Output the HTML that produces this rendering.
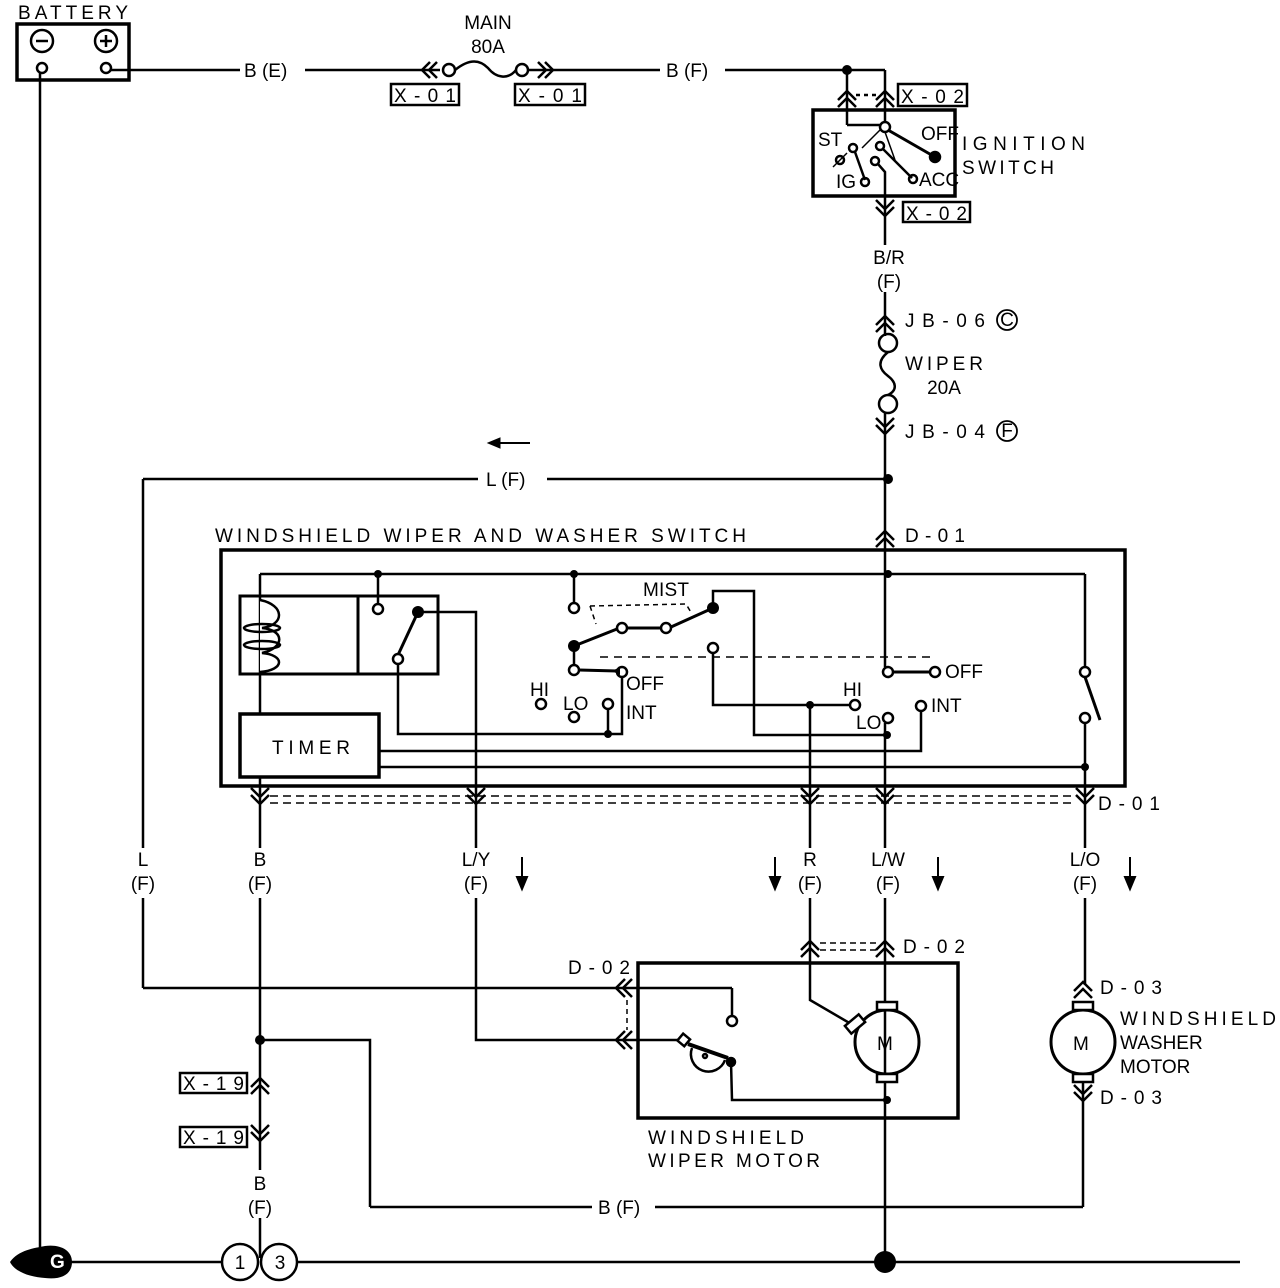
<!DOCTYPE html>
<html><head><meta charset="utf-8"><style>
html,body{margin:0;padding:0;background:#fff}
svg{display:block}
text{font-family:"Liberation Sans",sans-serif;font-size:19px;fill:#000}
</style></head><body>
<svg width="1280" height="1288" viewBox="0 0 1280 1288" xmlns="http://www.w3.org/2000/svg">
<defs>
<path id="up" d="M-9,5 L0,-4 L9,5 M-9,12 L0,3 L9,12" fill="none" stroke="#000" stroke-width="2.5"/>
<path id="dn" d="M-9,-5 L0,4 L9,-5 M-9,-12 L0,-3 L9,-12" fill="none" stroke="#000" stroke-width="2.5"/>
<path id="lf" d="M5,-9 L-4,0 L5,9 M12,-9 L3,0 L12,9" fill="none" stroke="#000" stroke-width="2.5"/>
<path id="da" d="M0,0 L0,28 M-5,20 L0,32 L5,20 Z" fill="#000" stroke="#000" stroke-width="2"/>
</defs>
<g fill="none" stroke="#000" stroke-width="2.5">
<rect x="17" y="24" width="112" height="56" stroke-width="3.5"/>
<circle cx="42" cy="41" r="11"/><circle cx="106" cy="41" r="11"/>
<line x1="36" y1="41" x2="48" y2="41"/><line x1="100" y1="41" x2="112" y2="41"/><line x1="106" y1="35" x2="106" y2="47"/>
<circle cx="42" cy="68" r="5"/><circle cx="106" cy="68" r="5"/>
<line x1="40" y1="73" x2="40" y2="1258"/>
<line x1="111" y1="70" x2="240" y2="70"/><line x1="305" y1="70" x2="440" y2="70"/>
<path d="M430,62 L422,70 L430,78 M437,62 L429,70 L437,78"/>
<circle cx="449" cy="70" r="6"/>
<path d="M455,70 C470,58 480,60 488,68 C496,78 508,80 516,70"/>
<circle cx="522" cy="70" r="6"/>
<path d="M538,62 L546,70 L538,78 M545,62 L553,70 L545,78"/>
<line x1="528" y1="70" x2="660" y2="70"/><line x1="725" y1="70" x2="885" y2="70"/>
<rect x="391" y="84" width="68" height="21"/><rect x="515" y="84" width="70" height="21"/>
<line x1="847" y1="70" x2="847" y2="125"/><line x1="847" y1="125" x2="885" y2="125"/>
<line x1="885" y1="70" x2="885" y2="125"/>
<use href="#up" x="847" y="95"/><use href="#up" x="885" y="95"/>
<line x1="856" y1="95" x2="876" y2="95" stroke-dasharray="4,4"/>
<rect x="898" y="84" width="69" height="22"/>
<rect x="813" y="110" width="142" height="86" stroke-width="3.5"/>
<circle cx="885" cy="127" r="5" fill="#fff"/>
<line x1="888" y1="130" x2="935" y2="157" stroke-width="3"/>
<circle cx="935" cy="157" r="5" fill="#000"/>
<line x1="880" y1="130" x2="862" y2="148" stroke-width="1.5"/>
<line x1="885" y1="132" x2="895" y2="160" stroke-width="1.5"/>
<circle cx="880" cy="146" r="4"/><line x1="883" y1="149" x2="912" y2="178"/><circle cx="913" cy="179" r="4"/>
<circle cx="853" cy="148" r="4"/><line x1="855" y1="152" x2="865" y2="180"/><circle cx="865" cy="182" r="4"/>
<circle cx="840" cy="160" r="4"/><line x1="833" y1="167" x2="847" y2="153" stroke-width="1.5"/>
<circle cx="875" cy="161" r="4"/><path d="M878,164 L885,172 L885,245"/>
<use href="#dn" x="885" y="212"/>
<rect x="903" y="202" width="67" height="20"/>
<line x1="885" y1="292" x2="885" y2="336"/>
<use href="#up" x="885" y="320"/>
<circle cx="888" cy="343" r="9"/>
<path d="M888,352 C876,362 880,370 888,376 C896,382 898,390 888,395"/>
<circle cx="888" cy="404" r="9"/>
<line x1="885" y1="413" x2="885" y2="667"/><line x1="885" y1="723" x2="885" y2="848"/><line x1="885" y1="898" x2="885" y2="1258"/>
<use href="#dn" x="885" y="430"/>
<circle cx="1007" cy="320" r="10" stroke-width="1.8"/><circle cx="1007" cy="431" r="10" stroke-width="1.8"/>
<line x1="495" y1="443" x2="530" y2="443" stroke-width="2"/>
<path d="M488,443 L500,438 L500,448 Z" fill="#000" stroke-width="1"/>
<line x1="143" y1="479" x2="478" y2="479"/><line x1="547" y1="479" x2="888" y2="479"/>
<line x1="143" y1="479" x2="143" y2="848"/><line x1="143" y1="898" x2="143" y2="988"/>
<line x1="143" y1="988" x2="732" y2="988"/><line x1="732" y1="988" x2="732" y2="1016"/>
<circle cx="732" cy="1021" r="5"/>
<use href="#up" x="885" y="535"/>
<rect x="221" y="550" width="904" height="236" stroke-width="3.5"/>
<line x1="260" y1="574" x2="1085" y2="574"/><line x1="1085" y1="574" x2="1085" y2="667"/>
<line x1="260" y1="574" x2="260" y2="714"/>
<rect x="240" y="596" width="198" height="78" stroke-width="3"/><line x1="358" y1="596" x2="358" y2="674" stroke-width="3"/>
<path d="M260,600 C285,605 285,625 262,628 C285,630 285,648 262,653 C285,655 285,670 260,672" fill="#fff"/>
<ellipse cx="262" cy="628" rx="18" ry="4"/><ellipse cx="262" cy="645" rx="18" ry="4"/>
<line x1="378" y1="574" x2="378" y2="604"/><circle cx="378" cy="609" r="5" fill="#fff"/>
<line x1="418" y1="612" x2="398" y2="655" stroke-width="3"/><circle cx="398" cy="659" r="5" fill="#fff"/>
<path d="M418,612 L476,612 L476,848"/><path d="M476,898 L476,1040 L615,1040"/>
<path d="M398,664 L398,734 L608,734"/>
<rect x="240" y="714" width="139" height="63" stroke-width="3.5"/>
<line x1="260" y1="777" x2="260" y2="848"/><line x1="260" y1="898" x2="260" y2="1170"/><line x1="260" y1="1218" x2="260" y2="1258"/>
<line x1="574" y1="574" x2="574" y2="603"/><circle cx="574" cy="608" r="5"/>
<path d="M574,646 L617,629 M627,628 L661,628 M671,627 L713,608" stroke-width="3"/>
<circle cx="622" cy="628" r="5"/><circle cx="666" cy="628" r="5"/>
<path d="M590,606 L596,624 M590,606 L686,604 L692,614" stroke-width="1.5" stroke-dasharray="5,4"/>
<path d="M713,608 L713,591 L754,591 L754,735 L887,735"/>
<line x1="574" y1="646" x2="574" y2="665"/><circle cx="574" cy="670" r="5"/>
<line x1="579" y1="670" x2="617" y2="671" stroke-width="3"/><circle cx="622" cy="672" r="5"/>
<path d="M622,677 L622,734 L608,734"/><line x1="608" y1="709" x2="608" y2="734"/><circle cx="608" cy="704" r="5"/>
<circle cx="541" cy="704" r="5"/><circle cx="574" cy="717" r="5"/>
<line x1="600" y1="657" x2="930" y2="657" stroke-width="1.5" stroke-dasharray="8,6"/>
<circle cx="713" cy="648" r="5" fill="#fff"/><path d="M713,653 L713,705 L850,705"/><circle cx="855" cy="705" r="5"/>
<line x1="888" y1="672" x2="930" y2="672" stroke-width="3"/><circle cx="888" cy="672" r="5" fill="#fff"/><circle cx="935" cy="672" r="5" fill="#fff"/>
<circle cx="888" cy="718" r="5" fill="#fff"/>
<path d="M921,711 L921,751 L379,751"/><circle cx="921" cy="706" r="5"/>
<line x1="379" y1="767" x2="1085" y2="767"/>
<line x1="1085" y1="677" x2="1100" y2="720" stroke-width="3"/><circle cx="1085" cy="672" r="5" fill="#fff"/>
<circle cx="1085" cy="718" r="5"/><line x1="1085" y1="723" x2="1085" y2="848"/><line x1="1085" y1="898" x2="1085" y2="985"/>
<line x1="810" y1="705" x2="810" y2="848"/><line x1="810" y1="898" x2="810" y2="960"/>
<path d="M810,960 L810,1000 L858,1028"/>
<line x1="270" y1="796" x2="1075" y2="796" stroke-width="1.5" stroke-dasharray="8,5"/>
<line x1="270" y1="803" x2="1075" y2="803" stroke-width="1.5" stroke-dasharray="8,5"/>
<use href="#dn" x="260" y="800"/><use href="#dn" x="476" y="800"/><use href="#dn" x="810" y="800"/><use href="#dn" x="885" y="800"/><use href="#dn" x="1085" y="800"/>
<use href="#da" x="522" y="857"/><use href="#da" x="775" y="857"/><use href="#da" x="938" y="857"/><use href="#da" x="1130" y="857"/>
<use href="#up" x="810" y="945"/><use href="#up" x="885" y="945"/>
<line x1="820" y1="943" x2="876" y2="943" stroke-width="1.5" stroke-dasharray="6,4"/><line x1="820" y1="950" x2="876" y2="950" stroke-width="1.5" stroke-dasharray="6,4"/>
<rect x="638" y="963" width="320" height="155" stroke-width="3.5"/>
<use href="#lf" x="620" y="988"/><use href="#lf" x="620" y="1040"/>
<line x1="627" y1="1000" x2="627" y2="1030" stroke-width="1.5" stroke-dasharray="5,4"/>
<circle cx="887" cy="1042" r="32" stroke-width="3"/>
<rect x="877" y="1002" width="20" height="8" stroke-width="2.5" fill="#fff"/><rect x="877" y="1074" width="20" height="8" stroke-width="2.5" fill="#fff"/>
<rect x="850" y="1015" width="10" height="18" transform="rotate(50 855 1024)" stroke-width="2.5" fill="#fff"/>
<path d="M615,1040 L680,1040"/><rect x="679" y="1035" width="9" height="9" transform="rotate(40 683 1040)" fill="#fff"/>
<path d="M688,1044 L728,1058" stroke-width="4"/>
<path d="M692,1048 A14,14 0 1 0 725,1060"/>
<circle cx="705" cy="1056" r="2"/>
<circle cx="731" cy="1062" r="4" fill="#000"/><path d="M731,1062 L732,1100 L887,1100"/>
<use href="#up" x="1083" y="986"/><use href="#dn" x="1083" y="1097"/>
<circle cx="1083" cy="1042" r="32" stroke-width="3"/>
<rect x="1073" y="1002" width="20" height="8" fill="#fff"/><rect x="1073" y="1074" width="20" height="8" fill="#fff"/>
<line x1="1083" y1="1082" x2="1083" y2="1207"/>
<line x1="370" y1="1207" x2="592" y2="1207"/><line x1="655" y1="1207" x2="1083" y2="1207"/>
<path d="M260,1040 L370,1040 L370,1207"/>
<use href="#up" x="260" y="1082"/><use href="#dn" x="260" y="1137"/>
<rect x="180" y="1073" width="67" height="20"/><rect x="180" y="1127" width="67" height="20"/>
<line x1="60" y1="1262" x2="222" y2="1262"/><line x1="297" y1="1262" x2="1240" y2="1262"/>
<circle cx="240" cy="1262" r="18"/><circle cx="279" cy="1262" r="18"/>
</g>
<g fill="#000">
<circle cx="847" cy="70" r="5"/><circle cx="888" cy="479" r="5"/><circle cx="888" cy="574" r="4"/>
<circle cx="378" cy="574" r="4"/><circle cx="574" cy="574" r="4"/><circle cx="418" cy="612" r="6"/>
<circle cx="713" cy="608" r="6"/><circle cx="574" cy="646" r="6"/><circle cx="608" cy="734" r="4"/>
<circle cx="810" cy="705" r="4"/><circle cx="887" cy="735" r="4"/><circle cx="1085" cy="767" r="4"/>
<circle cx="887" cy="1100" r="4"/><circle cx="260" cy="1040" r="5"/><circle cx="885" cy="1262" r="11"/>
<path d="M612,671 L620,667 L620,675 Z"/>
<path d="M10,1262 C18,1250 35,1248 45,1246 C60,1244 72,1250 72,1262 C72,1274 62,1280 45,1278 C30,1277 15,1272 10,1262 Z"/>
</g>
<text x="50" y="1268" font-size="18" font-weight="bold" style="fill:#fff">G</text>
<g>
<text x="18" y="19" textLength="110">BATTERY</text>
<text x="488" y="29" text-anchor="middle">MAIN</text><text x="488" y="53" text-anchor="middle">80A</text>
<text x="244" y="77">B (E)</text><text x="666" y="77">B (F)</text>
<text x="394" y="102" textLength="62">X-01</text><text x="518" y="102" textLength="64">X-01</text>
<text x="901" y="103" textLength="63">X-02</text><text x="906" y="220" textLength="61">X-02</text>
<text x="962" y="150" textLength="123">IGNITION</text><text x="962" y="174" textLength="92">SWITCH</text>
<text x="818" y="146" font-size="14">ST</text><text x="921" y="140" font-size="14">OFF</text>
<text x="836" y="188" font-size="14">IG</text><text x="919" y="186" font-size="13">ACC</text>
<text x="889" y="264" text-anchor="middle">B/R</text><text x="889" y="288" text-anchor="middle">(F)</text>
<text x="905" y="327" textLength="80">JB-06</text><text x="1007" y="326" font-size="15" text-anchor="middle">C</text>
<text x="905" y="370" textLength="78">WIPER</text><text x="944" y="394" text-anchor="middle">20A</text>
<text x="905" y="438" textLength="80">JB-04</text><text x="1007" y="437" font-size="15" text-anchor="middle">F</text>
<text x="486" y="486">L (F)</text>
<text x="215" y="542" textLength="531">WINDSHIELD WIPER AND WASHER SWITCH</text>
<text x="905" y="542" textLength="60">D-01</text>
<text x="643" y="596" font-size="15" textLength="46">MIST</text>
<text x="530" y="696" font-size="15">HI</text><text x="563" y="710" font-size="15">LO</text>
<text x="626" y="690" font-size="15">OFF</text><text x="626" y="719" font-size="15">INT</text>
<text x="843" y="696" font-size="15">HI</text><text x="856" y="729" font-size="15">LO</text>
<text x="931" y="712" font-size="15">INT</text><text x="945" y="678" font-size="15">OFF</text>
<text x="272" y="754" font-size="20" textLength="78">TIMER</text>
<text x="1098" y="810" textLength="62">D-01</text>
<text x="143" y="866" text-anchor="middle">L</text><text x="143" y="890" text-anchor="middle">(F)</text>
<text x="260" y="866" text-anchor="middle">B</text><text x="260" y="890" text-anchor="middle">(F)</text>
<text x="476" y="866" text-anchor="middle">L/Y</text><text x="476" y="890" text-anchor="middle">(F)</text>
<text x="810" y="866" text-anchor="middle">R</text><text x="810" y="890" text-anchor="middle">(F)</text>
<text x="888" y="866" text-anchor="middle">L/W</text><text x="888" y="890" text-anchor="middle">(F)</text>
<text x="1085" y="866" text-anchor="middle">L/O</text><text x="1085" y="890" text-anchor="middle">(F)</text>
<text x="903" y="953" textLength="62">D-02</text><text x="568" y="974" textLength="62">D-02</text>
<text x="877" y="1050" font-size="22">M</text><text x="1073" y="1050" font-size="22">M</text>
<text x="1100" y="994" textLength="62">D-03</text><text x="1100" y="1104" textLength="62">D-03</text>
<text x="1120" y="1025" textLength="156">WINDSHIELD</text><text x="1120" y="1049">WASHER</text><text x="1120" y="1073">MOTOR</text>
<text x="648" y="1144" textLength="156">WINDSHIELD</text><text x="648" y="1167" textLength="172">WIPER MOTOR</text>
<text x="183" y="1090" textLength="61">X-19</text><text x="183" y="1144" textLength="61">X-19</text>
<text x="260" y="1190" text-anchor="middle">B</text><text x="260" y="1214" text-anchor="middle">(F)</text>
<text x="598" y="1214">B (F)</text>
<text x="240" y="1269" text-anchor="middle">1</text><text x="280" y="1269" text-anchor="middle">3</text>
</g>
</svg>
</body></html>
